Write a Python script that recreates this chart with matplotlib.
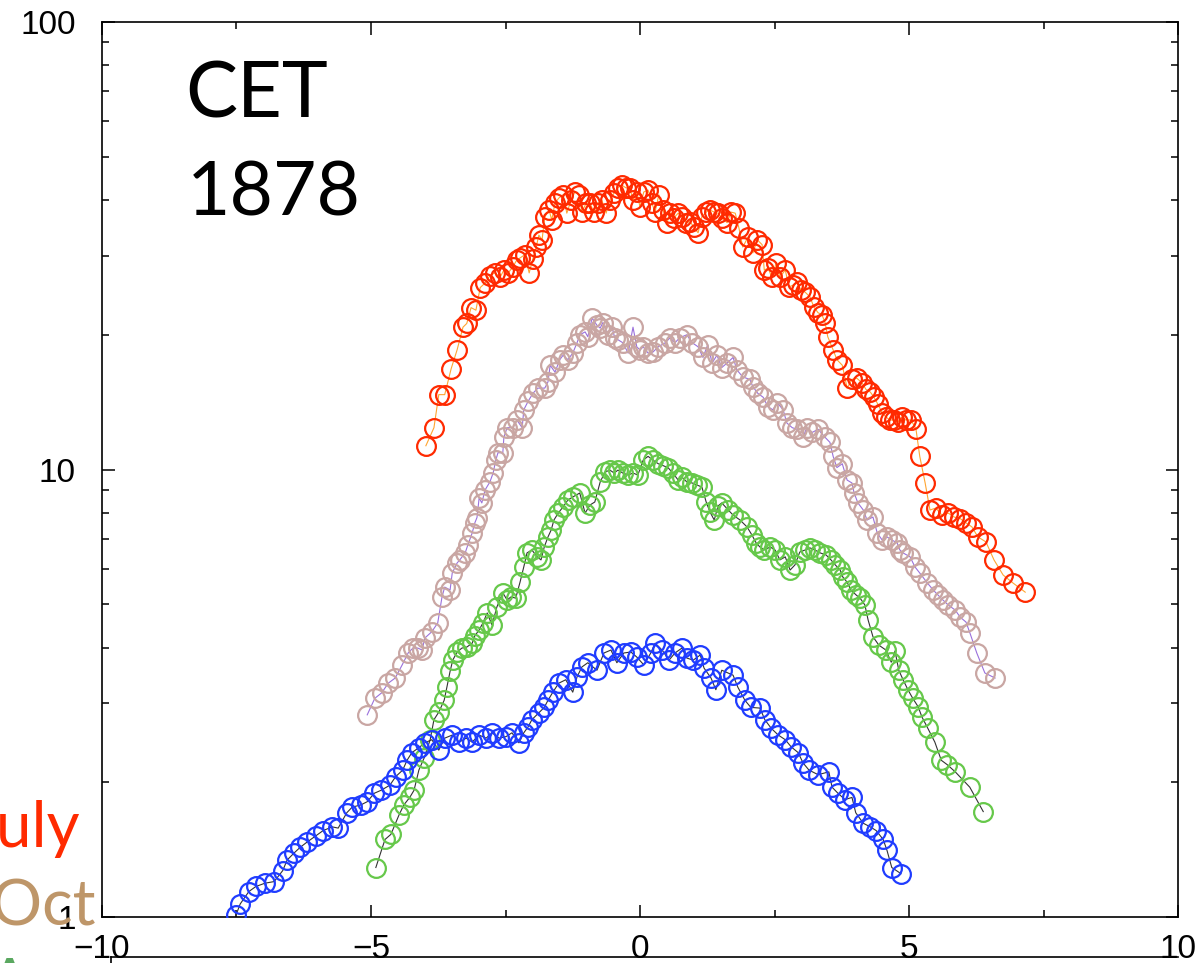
import matplotlib
matplotlib.use('Agg')
import matplotlib.pyplot as plt
from matplotlib.ticker import MultipleLocator, FixedLocator, FuncFormatter, NullFormatter, LogLocator
from matplotlib.lines import Line2D

# July (red)
jul_x = [-3.98, -3.83, -3.74, -3.63, -3.51, -3.40, -3.29, -3.22, -3.14, -3.05,
         -2.97, -2.88, -2.79, -2.70, -2.60, -2.53, -2.45, -2.36, -2.29, -2.23,
         -2.14, -2.06, -1.99, -1.93, -1.88, -1.82, -1.77, -1.69, -1.64, -1.58,
         -1.51, -1.43, -1.36, -1.28, -1.21, -1.13, -1.08, -1.00, -0.93, -0.86,
         -0.78, -0.71, -0.63, -0.56, -0.48, -0.41, -0.34, -0.26, -0.19, -0.13,
         -0.06, 0.00, 0.07, 0.15, 0.22, 0.28, 0.35, 0.43, 0.50, 0.56,
         0.63, 0.71, 0.78, 0.86, 0.93, 1.00, 1.08, 1.15, 1.23, 1.30,
         1.38, 1.45, 1.52, 1.62, 1.69, 1.77, 1.84, 1.91, 2.01, 2.10,
         2.18, 2.27, 2.31, 2.38, 2.45, 2.53, 2.60, 2.70, 2.77, 2.84,
         2.92, 2.99, 3.07, 3.16, 3.23, 3.31, 3.38, 3.44, 3.49, 3.59,
         3.66, 3.76, 3.85, 3.94, 4.03, 4.13, 4.20, 4.28, 4.35, 4.42,
         4.50, 4.57, 4.65, 4.72, 4.80, 4.87, 4.94, 5.04, 5.13, 5.20,
         5.30, 5.39, 5.50, 5.61, 5.73, 5.84, 5.95, 6.06, 6.17, 6.28,
         6.43, 6.58, 6.75, 6.93, 7.16]
jul_y = [11.3, 12.4, 14.7, 14.7, 16.8, 18.5, 20.8, 21.2, 23.0, 22.7,
         25.5, 26.1, 27.1, 27.5, 26.9, 27.9, 27.5, 28.4, 29.4, 29.7,
         30.2, 27.5, 29.6, 31.4, 33.4, 32.6, 36.7, 38.0, 36.1, 39.4,
         40.4, 41.1, 37.4, 40.0, 41.7, 41.1, 37.6, 39.4, 39.4, 37.6,
         39.4, 40.0, 37.4, 40.0, 41.5, 42.6, 43.2, 42.6, 42.6, 40.0,
         41.7, 38.6, 41.7, 42.1, 39.4, 37.6, 41.1, 38.0, 35.6, 37.4,
         36.5, 37.4, 36.7, 35.6, 35.8, 34.8, 33.8, 36.7, 37.6, 38.0,
         37.6, 37.4, 36.5, 35.6, 37.6, 37.4, 34.6, 31.4, 33.1, 30.5,
         32.6, 31.8, 27.9, 28.2, 26.9, 28.9, 26.9, 27.9, 25.6, 25.8,
         26.2, 25.2, 24.9, 24.3, 23.1, 22.4, 22.2, 21.3, 19.8, 18.5,
         17.6, 17.1, 15.2, 15.9, 16.0, 15.6, 15.1, 14.9, 14.5, 14.0,
         13.4, 13.1, 12.9, 12.9, 12.8, 13.1, 12.9, 12.9, 12.3, 10.7,
         9.33, 8.12, 8.20, 7.91, 7.99, 7.83, 7.77, 7.60, 7.44, 7.07,
         6.89, 6.28, 5.81, 5.58, 5.32]

# Oct (tan)
oct_x = [-5.07, -4.93, -4.80, -4.68, -4.55, -4.42, -4.31, -4.22, -4.13, -4.05,
         -4.00, -3.87, -3.76, -3.68, -3.63, -3.53, -3.49, -3.40, -3.35, -3.25,
         -3.20, -3.12, -3.07, -3.03, -2.99, -2.94, -2.88, -2.79, -2.73, -2.68,
         -2.64, -2.55, -2.53, -2.47, -2.36, -2.29, -2.19, -2.16, -2.08, -1.99,
         -1.90, -1.77, -1.71, -1.67, -1.58, -1.49, -1.43, -1.34, -1.25, -1.17,
         -1.12, -1.02, -0.97, -0.89, -0.80, -0.74, -0.69, -0.60, -0.52, -0.47,
         -0.41, -0.32, -0.22, -0.13, -0.06, 0.00, 0.06, 0.15, 0.24, 0.34,
         0.47, 0.56, 0.65, 0.74, 0.87, 0.97, 1.08, 1.17, 1.26, 1.34,
         1.43, 1.52, 1.62, 1.73, 1.80, 1.91, 2.04, 2.10, 2.19, 2.29,
         2.38, 2.47, 2.55, 2.66, 2.73, 2.83, 2.92, 3.03, 3.10, 3.20,
         3.31, 3.44, 3.53, 3.59, 3.66, 3.76, 3.85, 3.94, 3.98, 4.05,
         4.15, 4.22, 4.33, 4.41, 4.50, 4.59, 4.68, 4.78, 4.83, 4.89,
         5.02, 5.11, 5.20, 5.34, 5.45, 5.54, 5.63, 5.73, 5.86, 5.95,
         6.06, 6.13, 6.26, 6.41, 6.60]
oct_y = [2.83, 3.08, 3.17, 3.33, 3.42, 3.66, 3.89, 3.99, 3.99, 3.95,
         4.20, 4.34, 4.54, 5.19, 5.46, 5.38, 5.87, 6.18, 6.28, 6.51,
         6.78, 7.21, 7.60, 7.81, 8.64, 8.42, 9.00, 9.38, 9.82, 10.5,
         10.9, 10.9, 11.8, 12.4, 12.4, 12.9, 12.4, 13.6, 14.2, 14.8,
         15.2, 15.2, 15.7, 17.1, 16.5, 17.6, 18.0, 17.6, 18.2, 19.2,
         20.0, 20.3, 19.8, 21.8, 21.0, 20.7, 21.3, 20.0, 20.8, 19.7,
         19.5, 19.2, 18.2, 20.8, 18.8, 18.5, 18.8, 18.2, 18.3, 18.8,
         19.2, 19.7, 19.2, 19.7, 20.0, 19.2, 18.8, 17.8, 19.0, 17.3,
         18.0, 16.9, 17.3, 17.8, 16.7, 16.1, 15.9, 15.3, 14.8, 14.5,
         13.8, 13.6, 14.1, 13.6, 12.7, 12.4, 12.3, 11.8, 12.4, 12.1,
         12.3, 11.8, 11.5, 10.7, 10.1, 10.3, 9.47, 9.33, 8.86, 8.42,
         8.12, 7.71, 7.83, 7.21, 6.96, 7.07, 6.96, 6.85, 6.61, 6.51,
         6.38, 6.06, 5.87, 5.58, 5.38, 5.24, 5.11, 4.98, 4.85, 4.68,
         4.56, 4.32, 3.89, 3.51, 3.42]

# green series
apr_x = [-4.91, -4.74, -4.63, -4.48, -4.39, -4.28, -4.20, -4.11, -4.01, -3.90,
         -3.83, -3.74, -3.64, -3.59, -3.53, -3.48, -3.40, -3.31, -3.22, -3.12,
         -3.07, -2.99, -2.92, -2.84, -2.75, -2.66, -2.55, -2.47, -2.40, -2.31,
         -2.23, -2.16, -2.10, -2.01, -1.91, -1.84, -1.78, -1.71, -1.65, -1.60,
         -1.52, -1.43, -1.34, -1.25, -1.12, -1.02, -0.93, -0.84, -0.74, -0.65,
         -0.56, -0.48, -0.41, -0.32, -0.22, -0.13, -0.04, 0.06, 0.15, 0.24,
         0.34, 0.43, 0.52, 0.61, 0.71, 0.78, 0.87, 0.97, 1.06, 1.15,
         1.23, 1.30, 1.38, 1.45, 1.52, 1.64, 1.73, 1.86, 1.99, 2.08,
         2.16, 2.23, 2.31, 2.42, 2.51, 2.60, 2.70, 2.79, 2.88, 2.97,
         3.07, 3.16, 3.25, 3.35, 3.46, 3.55, 3.63, 3.72, 3.77, 3.85,
         3.92, 4.02, 4.09, 4.18, 4.24, 4.33, 4.44, 4.57, 4.67, 4.74,
         4.81, 4.89, 4.98, 5.07, 5.17, 5.24, 5.35, 5.48, 5.60, 5.71,
         5.86, 6.13, 6.38]
apr_y = [1.29, 1.49, 1.53, 1.69, 1.78, 1.85, 1.92, 2.13, 2.27, 2.49,
         2.76, 2.87, 3.05, 3.26, 3.54, 3.75, 3.91, 3.99, 4.01, 4.09,
         4.25, 4.38, 4.54, 4.78, 4.49, 4.93, 5.30, 5.11, 5.19, 5.16,
         5.60, 6.06, 6.51, 6.61, 6.38, 6.28, 6.71, 7.07, 7.33, 7.71,
         7.99, 8.25, 8.55, 8.68, 8.86, 7.99, 8.33, 8.46, 9.38, 9.87,
         9.97, 9.82, 9.97, 9.82, 9.72, 9.82, 9.72, 10.5, 10.7, 10.5,
         10.3, 10.2, 10.1, 9.82, 9.47, 9.61, 9.38, 9.33, 9.23, 9.14,
         8.46, 8.04, 7.71, 8.29, 8.42, 8.12, 7.91, 7.71, 7.44, 7.14,
         6.85, 6.71, 6.61, 6.71, 6.61, 6.28, 6.38, 5.96, 6.12, 6.54,
         6.61, 6.68, 6.61, 6.51, 6.44, 6.28, 6.12, 5.96, 5.75, 5.60,
         5.38, 5.24, 5.16, 4.98, 4.61, 4.23, 4.05, 3.95, 3.71, 3.93,
         3.56, 3.39, 3.22, 3.08, 2.95, 2.80, 2.64, 2.46, 2.24, 2.19,
         2.11, 1.95, 1.72]

# blue series
jan_x = [-7.51, -7.43, -7.27, -7.14, -6.97, -6.80, -6.64, -6.56, -6.43, -6.32,
         -6.19, -6.02, -5.89, -5.72, -5.61, -5.45, -5.35, -5.19, -5.07, -4.94,
         -4.81, -4.65, -4.54, -4.41, -4.33, -4.24, -4.11, -4.00, -3.87, -3.74,
         -3.63, -3.49, -3.36, -3.23, -3.12, -2.99, -2.86, -2.75, -2.62, -2.49,
         -2.38, -2.25, -2.16, -2.08, -2.01, -1.88, -1.78, -1.71, -1.62, -1.51,
         -1.38, -1.25, -1.17, -1.08, -0.97, -0.80, -0.67, -0.54, -0.43, -0.30,
         -0.17, -0.06, 0.07, 0.20, 0.28, 0.41, 0.54, 0.65, 0.78, 0.87,
         0.99, 1.12, 1.19, 1.32, 1.41, 1.52, 1.73, 1.82, 1.95, 2.06,
         2.23, 2.32, 2.44, 2.57, 2.70, 2.81, 2.94, 3.03, 3.14, 3.31,
         3.51, 3.57, 3.68, 3.81, 3.94, 4.01, 4.15, 4.28, 4.39, 4.52,
         4.59, 4.68, 4.85]
jan_y = [1.01, 1.07, 1.14, 1.17, 1.19, 1.20, 1.27, 1.34, 1.39, 1.43,
         1.47, 1.52, 1.56, 1.59, 1.58, 1.71, 1.76, 1.78, 1.81, 1.89,
         1.92, 1.97, 2.06, 2.13, 2.24, 2.33, 2.39, 2.45, 2.49, 2.36,
         2.51, 2.55, 2.46, 2.51, 2.46, 2.55, 2.51, 2.58, 2.51, 2.53,
         2.58, 2.45, 2.58, 2.66, 2.76, 2.86, 2.94, 3.05, 3.18, 3.33,
         3.39, 3.18, 3.44, 3.62, 3.70, 3.56, 3.89, 3.95, 3.70, 3.89,
         3.91, 3.81, 3.66, 3.89, 4.09, 3.95, 3.75, 3.89, 3.99, 3.79,
         3.75, 3.85, 3.60, 3.42, 3.22, 3.56, 3.47, 3.26, 3.05, 2.94,
         2.93, 2.76, 2.64, 2.55, 2.49, 2.40, 2.33, 2.21, 2.13, 2.08,
         2.11, 1.95, 1.89, 1.83, 1.85, 1.71, 1.62, 1.59, 1.56, 1.49,
         1.41, 1.29, 1.25]

series = [
    (jul_x, jul_y, '#ff2a00', '#ffa530'),
    (oct_x, oct_y, '#c9a6a3', '#9a70dc'),
    (apr_x, apr_y, '#66c84a', '#333333'),
    (jan_x, jan_y, '#1f3cff', '#333333'),
]

W, H = 1203, 963
fig = plt.figure(figsize=(W / 100, H / 100), dpi=100)
ax = fig.add_axes([102 / W, 1 - 917 / H, (1178 - 102) / W, (917 - 22) / H])

for xs, ys, c, lc in series:
    ax.plot(xs, ys, '-', color=lc, lw=0.8, zorder=2)
    ax.plot(xs, ys, 'o', ms=13.5, mfc='none', mec=c, mew=1.6, zorder=3)

ax.set_yscale('log')
ax.set_xlim(-10, 10)
ax.set_ylim(1, 100)

ax.xaxis.set_major_locator(MultipleLocator(5))
ax.xaxis.set_minor_locator(MultipleLocator(2.5))
ax.yaxis.set_major_locator(FixedLocator([1, 10, 100]))
ax.yaxis.set_minor_locator(LogLocator(base=10, subs=range(2, 10)))
ax.yaxis.set_major_formatter(FuncFormatter(lambda v, p: f'{v:g}'))
ax.yaxis.set_minor_formatter(NullFormatter())

ax.tick_params(which='both', direction='in', top=True, right=True, width=1.1)
ax.tick_params(which='major', length=9)
ax.tick_params(which='minor', length=5)
ax.tick_params(axis='y', which='major', pad=19)
ax.tick_params(axis='x', which='major', pad=12)
for lab in ax.get_xticklabels() + ax.get_yticklabels():
    lab.set_fontfamily('Liberation Sans')
    lab.set_fontsize(24)
for s in ax.spines.values():
    s.set_linewidth(1.2)

fig.text(185 / W, 1 - 118 / H, 'CET', fontsize=56, family='Lato', va='baseline')
fig.text(187 / W, 1 - 215 / H, '1878', fontsize=54, family='Lato', va='baseline')

# month labels, cut off at the left edge
fig.text(80 / W, 1 - 847 / H, 'July', fontsize=46, family='Lato', color='#ff2a00',
         ha='right', va='baseline')
fig.text(95 / W, 1 - 925 / H, 'Oct', fontsize=46, family='Lato', color='#be9669',
         ha='right', va='baseline')
fig.text(-12 / W, 1 - 957 / H, 'Apr', fontsize=46, family='Lato', color='#5aa860',
         ha='left', va='top')

# edge of the next panel below
fig.add_artist(Line2D([111 / W, 1178 / W], [1 - 957 / H, 1 - 957 / H], color='black', lw=1.2))
fig.add_artist(Line2D([111 / W, 111 / W], [1 - 957 / H, 0], color='black', lw=1.2))

fig.savefig('out.png', dpi=100)
